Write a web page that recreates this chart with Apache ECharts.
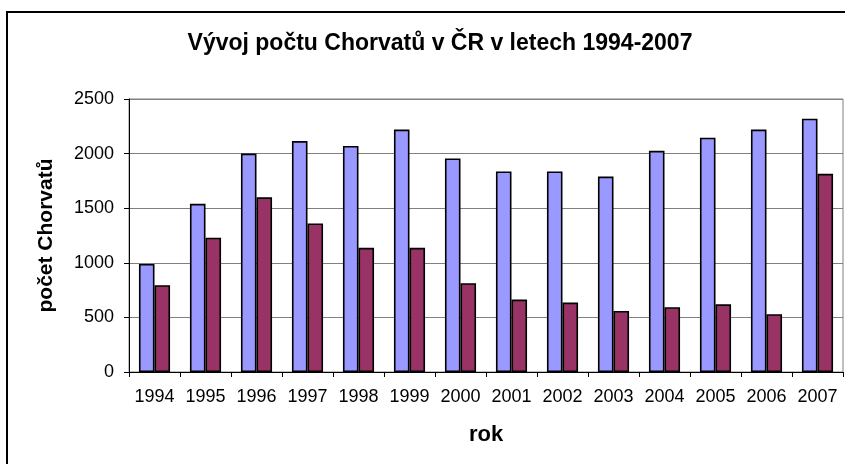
<!DOCTYPE html>
<html>
<head>
<meta charset="utf-8">
<script src="https://cdn.jsdelivr.net/npm/echarts@6/dist/echarts.min.js"></script>
<style>html,body{margin:0;padding:0;background:#fff}#c{width:845px;height:464px}</style>
</head>
<body>
<div id="c"></div>
<script>
const years = ['1994','1995','1996','1997','1998','1999','2000','2001','2002','2003','2004','2005','2006','2007'];
const seriesA = [990, 1540, 2000, 2115, 2070, 2220, 1955, 1837, 1837, 1790, 2025, 2145, 2220, 2320];
const seriesB = [795, 1230, 1600, 1360, 1137, 1137, 813, 663, 636, 559, 593, 620, 529, 1815];
const yTicks = [0, 500, 1000, 1500, 2000, 2500];

const chart = echarts.init(document.getElementById('c'));
const font = 'Liberation Sans, Arial, sans-serif';
chart.setOption({
  animation: false,
  backgroundColor: '#fff',
  title: {
    text: 'Vývoj počtu Chorvatů v ČR v letech 1994-2007',
    left: 435, top: 27, textAlign: 'center',
    textStyle: {fontFamily: font, fontSize: 23, fontWeight: 'bold', color: '#000'}
  },
  graphic: [{
    type: 'rect', shape: {x: 7, y: 12, width: 900, height: 500},
    style: {fill: 'none', stroke: '#000', lineWidth: 2}, z: -1
  }],
  grid: {left: 129, top: 99, right: 2, bottom: 92, show: true, borderColor: '#808080', borderWidth: 1},
  xAxis: {
    type: 'category', data: years,
    name: 'rok', nameLocation: 'middle', nameGap: 52,
    nameTextStyle: {fontFamily: font, fontSize: 22, fontWeight: 'bold', color: '#000'},
    axisLine: {lineStyle: {color: '#000', width: 1}},
    axisTick: {show: true, alignWithLabel: false, length: 5, lineStyle: {color: '#000'}},
    axisLabel: {fontFamily: font, fontSize: 18, color: '#000', margin: 16, interval: 0}
  },
  yAxis: {
    type: 'value', min: 0, max: 2500, interval: 500,
    name: 'počet Chorvatů', nameLocation: 'middle', nameGap: 72, nameRotate: 90,
    nameTextStyle: {fontFamily: font, fontSize: 21, fontWeight: 'bold', color: '#000'},
    axisLine: {show: true, lineStyle: {color: '#000', width: 1}},
    axisTick: {show: true, length: 5, lineStyle: {color: '#000'}},
    axisLabel: {fontFamily: font, fontSize: 18, color: '#000', margin: 15,
      formatter: v => yTicks.includes(v) ? String(v) : ''},
    splitLine: {lineStyle: {color: '#808080', width: 1}}
  },
  series: [{
    type: 'bar', data: seriesA, barGap: '0%', barCategoryGap: '39%',
    itemStyle: {color: '#9999FF', borderColor: '#000', borderWidth: 1.6}
  }, {
    type: 'bar', data: seriesB,
    itemStyle: {color: '#993366', borderColor: '#000', borderWidth: 1.6}
  }]
});
</script>
</body>
</html>
